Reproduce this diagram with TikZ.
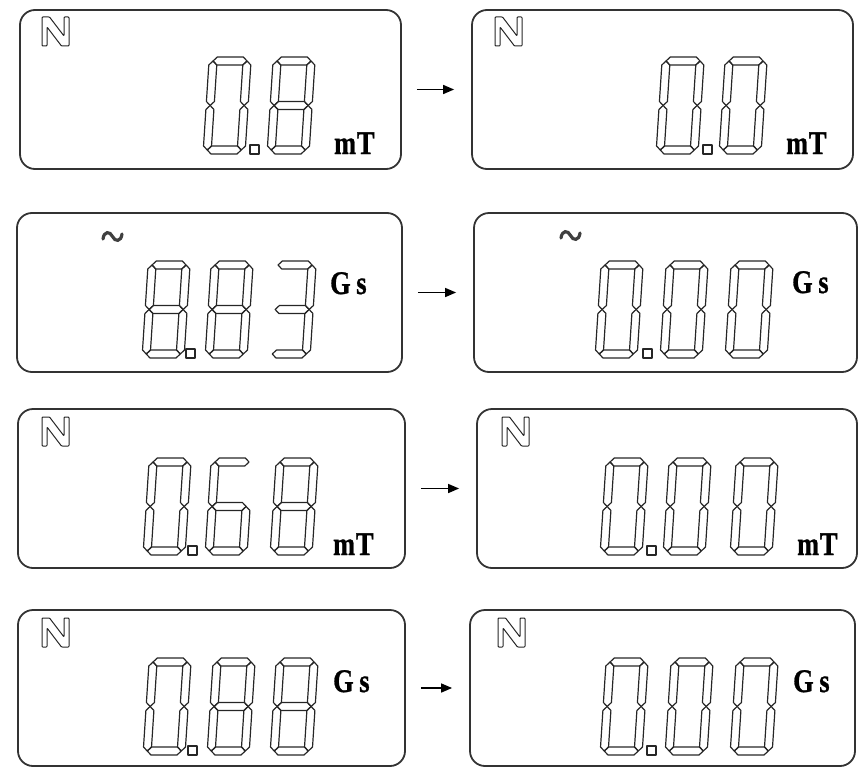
\documentclass[tikz,border=0pt]{standalone}
\usepackage{fontspec}
\setmainfont{Liberation Serif}
\newfontfamily\unitfont[FakeBold=1]{Liberation Serif Bold}
\usetikzlibrary{positioning,arrows.meta}

% segment helpers (local units: 1pt, y up)
\newcommand{\segh}{4}
\newcommand{\hseg}[3]{\draw[segment] (#1,#3) -- (#1+\segh,#3+\segh) -- (#2-\segh,#3+\segh) -- (#2,#3) -- (#2-\segh,#3-\segh) -- (#1+\segh,#3-\segh) -- cycle;}
\newcommand{\vseg}[3]{\draw[segment] (#1,#2) -- (#1+\segh,#2+\segh) -- (#1+\segh,#3-\segh) -- (#1,#3) -- (#1-\segh,#3-\segh) -- (#1-\segh,#2+\segh) -- cycle;}
\newcommand{\lcdsega}{\hseg{4}{38}{93}}
\newcommand{\lcdsegb}{\vseg{38}{48.5}{93}}
\newcommand{\lcdsegc}{\vseg{38}{4}{48.5}}
\newcommand{\lcdsegd}{\hseg{4}{38}{4}}
\newcommand{\lcdsege}{\vseg{4}{4}{48.5}}
\newcommand{\lcdsegf}{\vseg{4}{48.5}{93}}
\newcommand{\lcdsegg}{\hseg{4}{38}{48.5}}
\newcommand{\lcddigit}[3]{%
  \begin{scope}[shift={(#1,#2)}, yscale=-1, xslant=-0.065]
    \foreach \s in {#3} {\csname lcdseg\s\endcsname}
  \end{scope}}
\newcommand{\lcdpoint}[2]{\draw[segment] (#1,#2) rectangle ++(9,-9);}
\newcommand{\northmark}[2]{%
  \begin{scope}[shift={(#1,#2)}]
    \draw[segment, line width=1pt, rounded corners=0.8pt] (0,29) -- (0,0) -- (7.5,0) -- (22,19) -- (22,0) -- (27,0) -- (27,29) -- (19.5,29) -- (5,10) -- (5,29) -- cycle;
  \end{scope}}
\newcommand{\acmark}[2]{%
  \begin{scope}[shift={(#1,#2)}]
    \draw[tilde] (1,9) .. controls (2,1) and (8,1) .. (10.5,6.5) .. controls (13,12) and (19,12) .. (20,4);
  \end{scope}}

\begin{document}
\begin{tikzpicture}[
    x=1pt, y=-1pt,
    panel/.style={
        rectangle,
        draw=black!80,
        line width=1.8pt,
        rounded corners=15pt,
        inner sep=0pt,
        minimum height=159pt
    },
    segment/.style={draw=black!85, line width=1.2pt, line join=round},
    tilde/.style={draw=black!75, line width=3.2pt, line cap=round},
    unit/.style={
        font=\fontsize{33}{33}\selectfont\unitfont,
        inner sep=0pt,
        anchor=base west,
        xscale=0.8
    },
    arrow/.style={-{Triangle[length=11pt,width=9pt]}, line width=1.5pt, shorten <=15pt, shorten >=17pt}
]
    \useasboundingbox (0,0) rectangle (858,768);

    % Panels
    \node[panel, minimum width=381pt] (r1l) at (210.5,89.5) {};
    \node[panel, minimum width=381pt] (r1r) at (662.5,89.5) {};
    \node[panel, minimum width=385pt] (r2l) at (209.5,292.5) {};
    \node[panel, minimum width=383pt] (r2r) at (665.5,292.5) {};
    \node[panel, minimum width=387pt] (r3l) at (211.5,488.5) {};
    \node[panel, minimum width=380pt] (r3r) at (667,488.5) {};
    \node[panel, minimum width=387pt, minimum height=156pt] (r4l) at (211.5,688) {};
    \node[panel, minimum width=385pt, minimum height=156pt] (r4r) at (662.5,688) {};

    % Arrows
    \draw[arrow] (r1l) -- (r1r);
    \draw[arrow] (r2l) -- (r2r);
    \draw[arrow] (r3l) -- (r3r);
    \draw[arrow] (r4l) -- (r4r);

    % Row 1: 0.8 mT -> 0.0 mT
    \northmark{42}{17}
    \lcddigit{203}{154}{a,b,c,d,e,f}
    \lcdpoint{250}{154}
    \lcddigit{267}{154}{a,b,c,d,e,f,g}
    \node[unit] (u1l) at (334,154) {m\kern1pt T};
    \northmark{495}{17}
    \lcddigit{656}{154}{a,b,c,d,e,f}
    \lcdpoint{703}{154}
    \lcddigit{719}{154}{a,b,c,d,e,f}
    \node[unit] (u1r) at (786,154) {m\kern1pt T};

    % Row 2: 8.83 Gs -> 0.00 Gs
    \acmark{102}{230}
    \lcddigit{142}{358}{a,b,c,d,e,f,g}
    \lcdpoint{186}{358}
    \lcddigit{205}{358}{a,b,c,d,e,f,g}
    \lcddigit{268}{358}{a,b,c,d,g}
    \node[unit] (u2l) at (330,294) {G\kern7pt s};
    \acmark{560}{229}
    \lcddigit{595}{358}{a,b,c,d,e,f}
    \lcdpoint{643}{358}
    \lcddigit{660}{358}{a,b,c,d,e,f}
    \lcddigit{725}{358}{a,b,c,d,e,f}
    \node[unit] (u2r) at (792,293) {G\kern7pt s};

    % Row 3: 0.68 mT -> 0.00 mT
    \northmark{42}{417}
    \lcddigit{143}{555}{a,b,c,d,e,f}
    \lcdpoint{188}{555}
    \lcddigit{205}{555}{a,c,d,e,f,g}
    \lcddigit{270}{555}{a,b,c,d,e,f,g}
    \node[unit] (u3l) at (333,555) {m\kern1pt T};
    \northmark{502}{417}
    \lcddigit{600}{555}{a,b,c,d,e,f}
    \lcdpoint{647}{555}
    \lcddigit{663}{555}{a,b,c,d,e,f}
    \lcddigit{730}{555}{a,b,c,d,e,f}
    \node[unit] (u3r) at (797,555) {m\kern1pt T};

    % Row 4: 0.88 Gs -> 0.00 Gs
    \northmark{42}{618}
    \lcddigit{143}{755}{a,b,c,d,e,f}
    \lcdpoint{188}{755}
    \lcddigit{207}{755}{a,b,c,d,e,f,g}
    \lcddigit{270}{755}{a,b,c,d,e,f,g}
    \node[unit] (u4l) at (333,692) {G\kern7pt s};
    \northmark{498}{618}
    \lcddigit{600}{755}{a,b,c,d,e,f}
    \lcdpoint{647}{755}
    \lcddigit{665}{755}{a,b,c,d,e,f}
    \lcddigit{730}{755}{a,b,c,d,e,f}
    \node[unit] (u4r) at (793,692) {G\kern7pt s};
\end{tikzpicture}
\end{document}
